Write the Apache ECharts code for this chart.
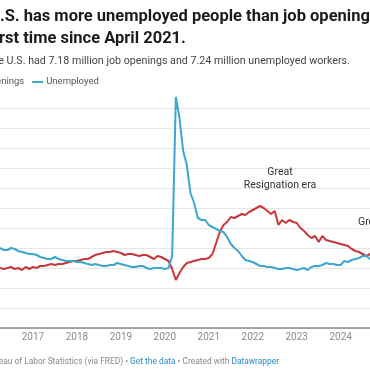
<!DOCTYPE html>
<html>
<head>
<meta charset="utf-8">
<script src="https://cdn.jsdelivr.net/npm/echarts@6/dist/echarts.min.js"></script>
<style>
html,body{margin:0;padding:0;background:#fff;}
#chart{width:370px;height:370px;}
</style>
</head>
<body>
<div id="chart"></div>
<script>
// Monthly data, April 2016 – July 2025 (millions)
const startYear = 2016, startMonth = 4;
const jobOpenings = [
  6.0, 5.9, 6.0, 6.1, 5.9, 6.0, 5.8, 6.1, 5.9,
  6.1, 6.0, 6.2, 6.2, 6.3, 6.4, 6.3, 6.4, 6.4, 6.5, 6.6, 6.7,
  6.7, 6.8, 6.9, 6.9, 7.1, 7.3, 7.4, 7.5, 7.6, 7.6, 7.7, 7.6,
  7.5, 7.3, 7.4, 7.4, 7.3, 7.2, 7.3, 7.3, 7.1, 6.9, 7.2, 7.1,
  6.9, 6.7, 5.9, 4.8, 5.5, 6.1, 6.5, 6.6, 6.7, 6.8, 6.9, 6.9,
  7.0, 7.4, 8.5, 9.6, 10.3, 10.6, 11.1, 11.0, 11.2, 11.4, 11.3, 11.6,
  11.8, 12.0, 12.2, 12.0, 11.7, 11.4, 11.7, 10.3, 10.8, 10.5, 10.8, 10.6,
  10.5, 10.0, 9.7, 9.3, 9.0, 9.2, 8.6, 9.2, 8.8, 8.7, 8.6, 8.5,
  8.4, 8.3, 8.2, 7.9, 7.7, 7.6, 7.4, 7.2, 7.4, 7.7, 8.0, 7.5,
  7.7, 7.5, 7.2, 7.4, 7.7, 7.4, 7.18
];
const unemployed = [
  8.0, 7.8, 7.8, 8.0, 7.9, 7.7, 7.6, 7.5, 7.4,
  7.4, 7.3, 7.1, 7.0, 6.9, 6.9, 7.1, 6.9, 6.8, 6.7, 6.7, 6.7,
  6.6, 6.6, 6.5, 6.4, 6.3, 6.4, 6.3, 6.2, 6.2, 6.3, 6.3, 6.5,
  6.4, 6.3, 6.2, 6.1, 6.1, 6.2, 6.2, 6.0, 5.9, 6.0, 6.0, 6.0,
  5.9, 6.0, 7.2, 23.1, 21.0, 17.7, 16.3, 13.5, 12.5, 11.0, 10.8, 10.8,
  10.3, 10.1, 9.9, 9.7, 9.6, 9.1, 8.4, 8.0, 7.7, 7.2, 6.8, 6.7,
  6.6, 6.4, 6.2, 6.2, 6.1, 6.1, 6.0, 5.9, 5.9, 6.0, 6.0, 5.9,
  5.8, 5.9, 6.0, 5.8, 6.1, 6.2, 6.2, 6.3, 6.5, 6.4, 6.4, 6.3,
  6.3, 6.7, 6.6, 6.8, 6.9, 7.0, 7.2, 7.2, 6.9, 7.0, 7.1, 6.9,
  6.8, 7.1, 7.1, 7.2, 7.2, 7.0, 7.24
];
const months = jobOpenings.map((_, i) => {
  const m = startMonth - 1 + i;
  const y = startYear + Math.floor(m / 12);
  const mm = (m % 12) + 1;
  return y + '-' + (mm < 10 ? '0' + mm : '' + mm);
});
const seriesNames = ['Job openings', 'Unemployed'];
const titleText = 'U.S. has more unemployed people than job openings for the\nfirst time since April 2021.';
const subtitleText = 'The U.S. had 7.18 million job openings and 7.24 million unemployed workers.';
const yMin = 0, yMax = 22, yStep = 2;
const visibleLastMonth = 101; // index of the month at the right edge of the view (Sep 2024)

const FONT = 'Roboto, "DejaVu Sans", sans-serif';
const chart = echarts.init(document.getElementById('chart'), null, {renderer: 'canvas'});
chart.setOption({
  animation: false,
  backgroundColor: '#ffffff',
  title: [
    {
      text: titleText, left: -11, top: 6, padding: 0,
      textStyle: {fontFamily: FONT, fontSize: 16.5, fontWeight: 700, color: '#1b1b1b', lineHeight: 22}
    },
    {
      text: subtitleText, left: -14, top: 55, padding: 0,
      textStyle: {fontFamily: FONT, fontSize: 10.7, fontWeight: 400, color: '#444', lineHeight: 13}
    }
  ],
  legend: {
    data: seriesNames, left: -47, top: 77, padding: 0,
    icon: 'rect', itemWidth: 11, itemHeight: 2, itemGap: 8,
    textStyle: {fontFamily: FONT, fontSize: 9.5, color: '#555', padding: [0, 0, 0, -2]}
  },
  grid: {left: 0, right: 0, top: 108, height: 220, containLabel: false},
  xAxis: {
    type: 'category', data: months, boundaryGap: false,
    min: 0, max: visibleLastMonth,
    axisTick: {show: false},
    axisLine: {show: true, lineStyle: {color: '#8a8a8a', width: 1.5}},
    splitLine: {show: false},
    axisLabel: {
      interval: (idx, val) => val.slice(5) === '01',
      formatter: v => v.slice(0, 4),
      fontFamily: FONT, fontSize: 10, color: '#8a8a8a', margin: 4
    }
  },
  yAxis: {
    type: 'value', min: yMin, max: yMax, interval: yStep,
    axisLabel: {show: false}, axisLine: {show: false}, axisTick: {show: false},
    splitLine: {lineStyle: {color: '#e6e6e6', width: 1}}
  },
  series: [
    {
      name: seriesNames[0], type: 'line', data: jobOpenings, showSymbol: false, clip: false,
      color: '#c6393b', lineStyle: {width: 2, color: '#c6393b'}, z: 2
    },
    {
      name: seriesNames[1], type: 'line', data: unemployed, showSymbol: false, clip: false,
      color: '#3ea7cd', lineStyle: {width: 2, color: '#3ea7cd'}, z: 3
    }
  ],
  graphic: [
    {
      type: 'text', x: 280, y: 179, z: 10,
      style: {text: 'Great\nResignation era', align: 'center', verticalAlign: 'middle',
        font: '10.5px ' + FONT, fill: '#333', lineHeight: 13.5}
    },
    {
      type: 'text', x: 358, y: 222, z: 10,
      style: {text: 'Great Stay', align: 'left', verticalAlign: 'middle',
        font: '10.5px ' + FONT, fill: '#333'}
    },
    {
      type: 'text', x: 279, y: 362, z: 10,
      style: {
        text: '{g|Source: Bureau of Labor Statistics (via FRED) • }{b|Get the data}{g| • Created with }{b|Datawrapper}',
        align: 'right', verticalAlign: 'middle',
        rich: {
          g: {fontFamily: FONT, fontSize: 8.4, fill: '#888', color: '#888'},
          b: {fontFamily: FONT, fontSize: 8.4, fill: '#2a8ac4', color: '#2a8ac4'}
        }
      }
    }
  ]
});
</script>
</body>
</html>
